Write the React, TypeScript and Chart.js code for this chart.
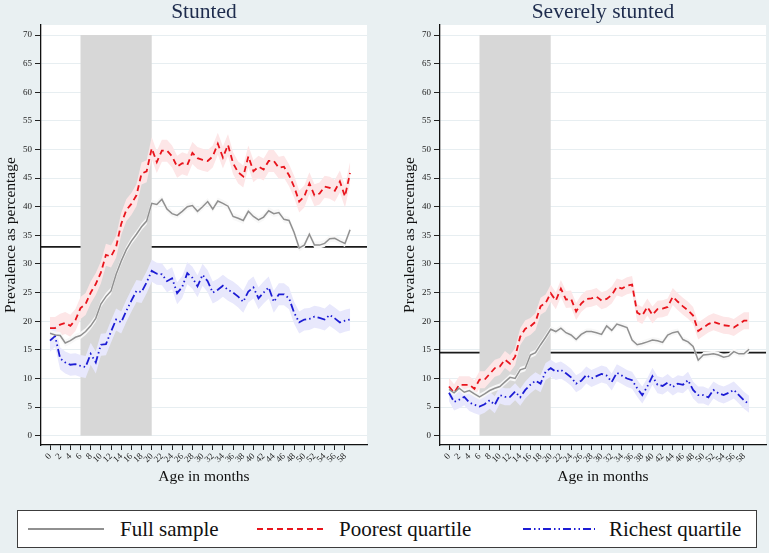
import React, { useEffect, useRef } from 'react';
import { Chart, registerables } from 'chart.js';

Chart.register(...registerables);

// ---------- data ----------
const MONTHS = [
  0, 1, 2, 3, 4, 5, 6, 7, 8, 9,
  10, 11, 12, 13, 14, 15, 16, 17, 18, 19,
  20, 21, 22, 23, 24, 25, 26, 27, 28, 29,
  30, 31, 32, 33, 34, 35, 36, 37, 38, 39,
  40, 41, 42, 43, 44, 45, 46, 47, 48, 49,
  50, 51, 52, 53, 54, 55, 56, 57, 58, 59,
];
const X_TICKS = [0, 2, 4, 6, 8, 10, 12, 14, 16, 18, 20, 22, 24, 26, 28, 30, 32, 34, 36, 38, 40, 42, 44, 46, 48, 50, 52, 54, 56, 58];
const Y_TICKS = [0, 5, 10, 15, 20, 25, 30, 35, 40, 45, 50, 55, 60, 65, 70];

const STUNTED_FULL = [
  17.9, 17.6, 17.5, 16.2, 16.6, 17.2, 17.5, 18.2, 19.2, 20.5,
  23.0, 24.3, 25.3, 28.2, 30.5, 32.5, 34.0, 35.2, 36.5, 37.5,
  40.6, 40.4, 41.3, 39.6, 38.8, 38.5, 39.2, 40.0, 40.2, 39.2,
  40.0, 40.9, 39.6, 41.0, 40.6, 40.1, 38.3, 38.0, 37.6, 39.2,
  38.3, 37.7, 38.2, 39.3, 38.8, 39.0, 37.8, 37.6, 35.5, 32.8,
  33.3, 35.2, 33.3, 33.3, 33.6, 34.4, 34.5, 34.0, 33.6, 36.0,
];
const STUNTED_POOREST = [
  18.8, 18.8, 19.4, 19.7, 19.2, 20.2, 22.3, 23.0, 25.0, 26.5,
  28.5, 31.6, 31.3, 33.0, 37.0, 39.4, 40.5, 42.0, 45.8, 46.2,
  50.2, 47.8, 49.8, 49.8, 48.8, 47.0, 47.6, 47.3, 49.4, 48.5,
  48.2, 48.0, 48.8, 51.0, 48.6, 50.8, 47.6, 46.0, 45.3, 48.8,
  46.2, 47.0, 46.5, 48.0, 48.0, 46.8, 47.0, 45.5, 43.5, 40.9,
  41.8, 44.1, 42.0, 42.3, 43.5, 43.3, 42.8, 44.4, 41.8, 45.9,
];
const STUNTED_RICHEST = [
  16.6, 17.4, 13.5, 12.8, 12.4, 12.5, 12.2, 12.0, 14.3, 12.8,
  15.9, 16.0, 18.2, 20.3, 19.8, 21.8, 23.6, 25.3, 25.1, 26.8,
  28.8, 28.3, 28.2, 27.0, 27.5, 24.9, 26.0, 28.4, 27.6, 26.1,
  28.1, 27.0, 25.0, 25.5, 26.2, 25.5, 25.0, 24.3, 23.4, 25.2,
  25.9, 24.0, 25.0, 25.9, 23.4, 24.7, 24.7, 24.0, 21.5, 19.8,
  20.3, 20.4, 20.8, 20.6, 20.3, 21.1, 20.5, 19.8, 20.1, 20.3,
];

const SEVERE_FULL = [
  8.1, 7.5, 8.3, 7.6, 7.9, 7.3, 6.8, 7.3, 7.9, 8.3,
  8.6, 9.4, 10.2, 10.0, 11.5, 11.8, 14.1, 14.5, 15.9, 17.2,
  18.6, 18.2, 18.8, 18.0, 17.6, 16.8, 17.7, 18.2, 18.2, 18.0,
  17.7, 19.2, 18.4, 19.5, 19.2, 18.9, 16.7, 15.9, 16.1, 16.4,
  16.7, 16.6, 16.3, 17.6, 18.0, 18.2, 16.8, 16.4, 15.6, 13.2,
  14.1, 14.2, 14.3, 14.1, 13.7, 13.9, 14.7, 14.3, 14.3, 15.1,
];
const SEVERE_POOREST = [
  8.6, 7.5, 8.9, 8.9, 8.9, 8.2, 9.8, 9.8, 10.8, 11.8,
  12.1, 13.3, 12.6, 13.8, 17.3, 18.7, 19.1, 19.9, 22.6, 23.2,
  24.9, 23.6, 25.7, 23.8, 23.9, 21.7, 23.1, 23.9, 24.0, 24.3,
  23.6, 23.9, 24.6, 26.0, 25.7, 26.2, 26.4, 21.5, 21.0, 22.5,
  21.1, 22.1, 22.2, 22.5, 24.3, 23.4, 22.6, 21.9, 21.0, 18.3,
  18.9, 19.5, 19.9, 19.6, 19.3, 19.2, 18.9, 19.5, 20.1, 20.1,
];
const SEVERE_RICHEST = [
  7.5, 5.9, 6.3, 6.8, 5.8, 5.4, 5.1, 5.5, 6.2, 5.4,
  7.1, 6.8, 6.8, 7.7, 6.7, 8.0, 8.9, 9.6, 9.1, 11.2,
  11.8, 11.2, 11.5, 10.9, 10.2, 9.1, 9.6, 10.6, 10.0, 10.4,
  10.8, 10.5, 9.4, 11.0, 10.5, 10.0, 9.7, 8.3, 7.1, 8.6,
  10.4, 8.9, 8.7, 9.3, 8.5, 9.1, 8.9, 9.7, 8.0, 7.1,
  7.1, 6.7, 8.0, 7.4, 7.1, 7.5, 8.0, 7.1, 6.2, 5.5,
];

const STUNTED_REFERENCE = 33;
const SEVERE_REFERENCE = 14.5;
const SHADE_FROM = 6;
const SHADE_TO = 20;
const SHADE_BOTTOM = 0;
const SHADE_TOP = 70;

// ---------- styles ----------
const SERIF = "'Liberation Serif', 'Times New Roman', serif";
const BG = '#e9f0f2';
const GREY = '#909090';
const RED = '#e8141c';
const BLUE = '#1c1cd4';
const RED_DASH = [6, 4];
const BLUE_DASH = [8, 3, 1.5, 3, 1.5, 3];

type PanelProps = {
  left: number;
  title: string;
  full: number[];
  poorest: number[];
  richest: number[];
  reference: number;
  bands: { full: number; poorest: number; richest: number };
};

function Panel({ left, title, full, poorest, richest, reference, bands }: PanelProps) {
  const ref = useRef<HTMLCanvasElement | null>(null);

  useEffect(() => {
    if (!ref.current) return;
    const toPoints = (vals: number[]) => MONTHS.map((m, i) => ({ x: m, y: vals[i] }));

    const decor = {
      id: 'decor',
      beforeDraw(chart: any) {
        const { ctx, chartArea, scales } = chart;
        ctx.save();
        // white plot region
        ctx.fillStyle = '#ffffff';
        ctx.fillRect(chartArea.left, chartArea.top, chartArea.right - chartArea.left, chartArea.bottom - chartArea.top);
        // reference line
        const yr = scales.y.getPixelForValue(reference);
        ctx.strokeStyle = '#1a1a1a';
        ctx.lineWidth = 1.8;
        ctx.beginPath();
        ctx.moveTo(chartArea.left, yr);
        ctx.lineTo(chartArea.right, yr);
        ctx.stroke();
        ctx.restore();
      },
      beforeDatasetsDraw(chart: any) {
        const { ctx, scales } = chart;
        const xs = scales.x;
        const ys = scales.y;
        ctx.save();
        // shaded window
        const x0 = xs.getPixelForValue(SHADE_FROM);
        const x1 = xs.getPixelForValue(SHADE_TO);
        const y0 = ys.getPixelForValue(SHADE_TOP);
        const y1 = ys.getPixelForValue(SHADE_BOTTOM);
        ctx.fillStyle = '#d7d7d7';
        ctx.fillRect(x0, y0, x1 - x0, y1 - y0);
        // confidence bands (drawn around each series' own points)
        const specs = [
          { index: 1, half: bands.poorest, color: '#fde6e7' },
          { index: 2, half: bands.richest, color: '#e8e8fc' },
          { index: 0, half: bands.full, color: '#f8f8f8' },
        ];
        for (const s of specs) {
          const pts = chart.getDatasetMeta(s.index).data;
          if (!pts.length) continue;
          ctx.beginPath();
          for (let i = 0; i < pts.length; i++) {
            const p = pts[i];
            if (i === 0) ctx.moveTo(p.x, p.y - s.half);
            else ctx.lineTo(p.x, p.y - s.half);
          }
          for (let i = pts.length - 1; i >= 0; i--) {
            const p = pts[i];
            ctx.lineTo(p.x, p.y + s.half);
          }
          ctx.closePath();
          ctx.fillStyle = s.color;
          ctx.fill();
        }
        ctx.restore();
      },
    };

    const chart = new Chart(ref.current, {
      type: 'line',
      data: {
        datasets: [
          {
            label: 'Full sample',
            data: toPoints(full),
            borderColor: GREY,
            borderWidth: 1.5,
            pointRadius: 0,
            tension: 0,
            fill: false,
          },
          {
            label: 'Poorest quartile',
            data: toPoints(poorest),
            borderColor: RED,
            borderWidth: 1.8,
            borderDash: RED_DASH,
            pointRadius: 0,
            tension: 0,
            fill: false,
          },
          {
            label: 'Richest quartile',
            data: toPoints(richest),
            borderColor: BLUE,
            borderWidth: 1.8,
            borderDash: BLUE_DASH,
            pointRadius: 0,
            tension: 0,
            fill: false,
          },
        ],
      },
      options: {
        responsive: false,
        animation: false,
        events: [],
        layout: { padding: { left: 0, right: 3, top: 0, bottom: 0 } },
        plugins: {
          legend: { display: false },
          tooltip: { enabled: false },
          title: {
            display: true,
            text: title,
            fullSize: false,
            color: '#1e2c4d',
            font: { family: SERIF, size: 21.5, weight: 'normal', lineHeight: 1 },
            padding: { top: 2, bottom: 1.5 },
          },
        },
        scales: {
          x: {
            type: 'linear',
            min: -1.77,
            max: 62.33,
            afterBuildTicks: (s: any) => {
              s.ticks = X_TICKS.map((v) => ({ value: v }));
            },
            afterFit: (s: any) => {
              s.height = 55;
            },
            ticks: {
              font: { family: SERIF, size: 9 },
              color: '#222',
              minRotation: 45,
              maxRotation: 45,
              autoSkip: false,
              padding: 1,
            },
            grid: { drawOnChartArea: false, drawTicks: true, tickLength: 5, tickColor: '#222' },
            border: { display: true, color: '#111', width: 1.3 },
            title: {
              display: true,
              text: 'Age in months',
              color: '#111',
              font: { family: SERIF, size: 15.5, lineHeight: 1.2 },
              padding: { top: 0, bottom: 14 },
            },
          },
          y: {
            type: 'linear',
            min: -1.62,
            max: 71.75,
            afterBuildTicks: (s: any) => {
              s.ticks = Y_TICKS.map((v) => ({ value: v }));
            },
            afterFit: (s: any) => {
              s.width = 41;
            },
            ticks: { font: { family: SERIF, size: 9 }, color: '#222', padding: 3 },
            grid: { color: '#e7eef1', lineWidth: 1, tickColor: '#222', tickLength: 6 },
            border: { display: true, color: '#111', width: 1.3 },
            title: {
              display: true,
              text: 'Prevalence as percentage',
              color: '#111',
              font: { family: SERIF, size: 15.5, lineHeight: 1.2 },
              padding: { top: 2, bottom: 0 },
            },
          },
        },
      },
      plugins: [decor],
    } as any);

    return () => chart.destroy();
  }, []);

  return (
    <canvas
      ref={ref}
      width={370}
      height={500}
      style={{ position: 'absolute', left, top: 0, width: 370, height: 500 }}
    />
  );
}

function Legend() {
  const text: React.CSSProperties = {
    position: 'absolute',
    top: 0,
    lineHeight: '36px',
    fontFamily: SERIF,
    fontSize: 21,
    color: '#111',
    whiteSpace: 'nowrap',
  };
  const sample = (x: number, w: number): React.CSSProperties => ({
    position: 'absolute',
    left: x,
    top: 16,
    width: w,
    height: 4,
  });
  return (
    <div
      style={{
        position: 'absolute',
        left: 17,
        top: 510,
        width: 740,
        height: 38,
        boxSizing: 'border-box',
        border: '1px solid #3c3c3c',
        background: '#ffffff',
      }}
    >
      <svg style={sample(10, 76)} width={76} height={4}>
        <line x1={0} y1={2} x2={76} y2={2} stroke={GREY} strokeWidth={2} />
      </svg>
      <span style={{ ...text, left: 102 }}>Full sample</span>
      <svg style={sample(239, 68)} width={68} height={4}>
        <line x1={0} y1={2} x2={68} y2={2} stroke={RED} strokeWidth={2} strokeDasharray={RED_DASH.join(' ')} />
      </svg>
      <span style={{ ...text, left: 321 }}>Poorest quartile</span>
      <svg style={sample(505, 72)} width={72} height={4}>
        <line x1={0} y1={2} x2={72} y2={2} stroke={BLUE} strokeWidth={2} strokeDasharray={BLUE_DASH.join(' ')} />
      </svg>
      <span style={{ ...text, left: 591 }}>Richest quartile</span>
    </div>
  );
}

export default function App() {
  return (
    <div
      style={{
        position: 'absolute',
        left: 0,
        top: 0,
        width: 769,
        height: 553,
        background: BG,
        overflow: 'hidden',
      }}
    >
      <Panel
        left={0}
        title="Stunted"
        full={STUNTED_FULL}
        poorest={STUNTED_POOREST}
        richest={STUNTED_RICHEST}
        reference={STUNTED_REFERENCE}
        bands={{ full: 3.5, poorest: 11, richest: 11 }}
      />
      <Panel
        left={399}
        title="Severely stunted"
        full={SEVERE_FULL}
        poorest={SEVERE_POOREST}
        richest={SEVERE_RICHEST}
        reference={SEVERE_REFERENCE}
        bands={{ full: 3, poorest: 8.5, richest: 8.5 }}
      />
      <Legend />
    </div>
  );
}
